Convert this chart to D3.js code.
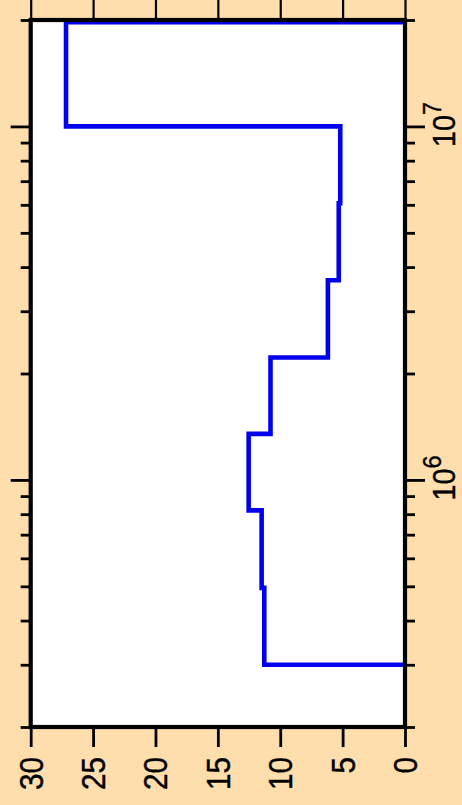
<!DOCTYPE html>
<html>
<head>
<meta charset="utf-8">
<script src="https://cdn.jsdelivr.net/npm/d3@7"></script>
<style>
  html, body { margin: 0; padding: 0; background: #FFDEAD; }
  svg { display: block; }
  text { font-family: "Liberation Sans", Arial, sans-serif; fill: #000; stroke: #000; stroke-width: 0.4; }
</style>
</head>
<body>
<svg id="chart" width="462" height="805"></svg>
<script>
// Histogram bin edges (log axis) and the value in each bin
const binEdges  = [3.0e5, 4.95e5, 8.2e5, 1.35e6, 2.22e6, 3.67e6, 6.06e6, 1.0e7, 1.97e7];
const binValues = [11.28, 11.49, 12.53, 10.78, 6.18, 5.31, 5.19, 27.17];

// Value axis ticks (drawn along the bottom, reversed)
const valueTicks = [30, 25, 20, 15, 10, 5, 0];
// Log axis ticks (drawn vertically)
const majorTicks = [1e6, 1e7];
const majorExponents = ["6", "7"];
const minorTicks = [2e5, 3e5, 4e5, 5e5, 6e5, 7e5, 8e5, 9e5,
                    2e6, 3e6, 4e6, 5e6, 6e6, 7e6, 8e6, 9e6, 2e7];

const svg = d3.select("#chart");

const plot = { left: 30.7, right: 405, top: 20, bottom: 727 };

const v = d3.scaleLinear().domain([30, 0]).range([plot.left, plot.right]);
const f = d3.scaleLog().domain([2e5, 2e7]).range([plot.bottom, plot.top]);

// Plot background
svg.append("rect")
  .attr("x", plot.left).attr("y", plot.top)
  .attr("width", plot.right - plot.left).attr("height", plot.bottom - plot.top)
  .attr("fill", "#fff");

// Step outline of the histogram
const pts = [[binEdges[0], 0]];
binValues.forEach((val, i) => {
  pts.push([binEdges[i], val]);
  pts.push([binEdges[i + 1], val]);
});
pts.push([binEdges[binEdges.length - 1], 0]);

svg.append("clipPath").attr("id", "plotclip")
  .append("rect")
  .attr("x", plot.left).attr("y", plot.top)
  .attr("width", plot.right - plot.left).attr("height", plot.bottom - plot.top);

svg.append("path")
  .datum(pts)
  .attr("clip-path", "url(#plotclip)")
  .attr("fill", "none")
  .attr("stroke", "#0000EE")
  .attr("stroke-width", 4.6)
  .attr("stroke-linejoin", "miter")
  .attr("d", d3.line().x(d => v(d[1])).y(d => f(d[0])));

// Axes (tick marks only; labels are rotated and drawn below)
function styleAxis(g, w) {
  g.select(".domain").remove();
  g.selectAll(".tick line").attr("stroke", "#000").attr("stroke-width", w);
  g.selectAll(".tick text").remove();
}

svg.append("g").attr("transform", `translate(0,${plot.bottom})`)
  .call(d3.axisBottom(v).tickValues(valueTicks).tickSize(20).tickFormat(""))
  .call(g => styleAxis(g, 2.8));
svg.append("g").attr("transform", `translate(0,${plot.top})`)
  .call(d3.axisTop(v).tickValues(valueTicks).tickSize(20).tickFormat(""))
  .call(g => styleAxis(g, 2.2));

[[d3.axisLeft, plot.left], [d3.axisRight, plot.right]].forEach(([axisFn, x]) => {
  svg.append("g").attr("transform", `translate(${x},0)`)
    .call(axisFn(f).tickValues(majorTicks).tickSize(20).tickFormat(""))
    .call(g => styleAxis(g, 2.8));
  svg.append("g").attr("transform", `translate(${x},0)`)
    .call(axisFn(f).tickValues(minorTicks).tickSize(10).tickFormat(""))
    .call(g => styleAxis(g, 2.8));
});

// Frame
svg.append("rect")
  .attr("x", plot.left).attr("y", plot.top)
  .attr("width", plot.right - plot.left).attr("height", plot.bottom - plot.top)
  .attr("fill", "none").attr("stroke", "#000").attr("stroke-width", 4.2);

// Value labels, rotated to read upward
svg.append("g").selectAll("text")
  .data(valueTicks)
  .join("text")
  .attr("transform", d => `translate(${v(d)},757) rotate(-90) scale(0.9,1)`)
  .attr("text-anchor", "end")
  .attr("dy", "0.36em")
  .attr("font-size", 33)
  .text(d => d);

// Power-of-ten labels on the right
const pow = svg.append("g").selectAll("text")
  .data(majorTicks)
  .join("text")
  .attr("transform", d => `translate(455,${f(d) - 2}) rotate(-90) scale(0.9,1)`)
  .attr("text-anchor", "middle")
  .attr("font-size", 32);
pow.append("tspan").text("10");
pow.append("tspan")
  .attr("dy", "-0.55em")
  .attr("font-size", 26)
  .text((d, i) => majorExponents[i]);
</script>
</body>
</html>
